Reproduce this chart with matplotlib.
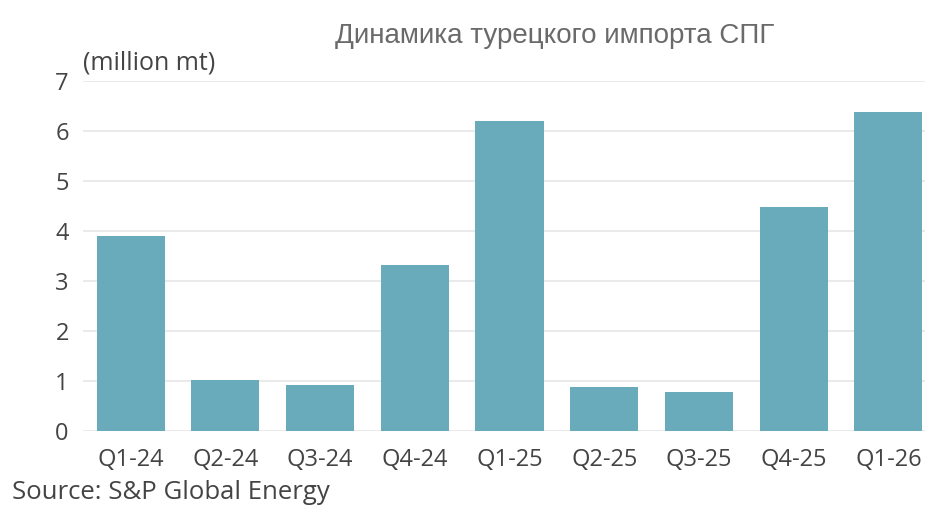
import matplotlib
matplotlib.use("Agg")
from matplotlib import pyplot as plt
import numpy as np

quarters = ["Q1-24", "Q2-24", "Q3-24", "Q4-24", "Q1-25", "Q2-25", "Q3-25", "Q4-25", "Q1-26"]
imports = [3.89, 1.01, 0.91, 3.32, 6.2, 0.88, 0.77, 4.47, 6.37]
yticks = [0, 1, 2, 3, 4, 5, 6, 7]

bar_color = "#6aabbb"
text_color = "#444444"

plt.rcParams["font.family"] = ["Open Sans", "DejaVu Sans"]

fig = plt.figure(figsize=(9.5, 5.16), dpi=100)
ax = fig.add_axes([0.087, 0.165, 0.887, 0.678])

x = np.arange(len(quarters))
ax.bar(x, imports, width=0.72, color=bar_color, zorder=2)

ax.set_xlim(-0.507, 8.39)
ax.set_ylim(0, 7)
ax.set_yticks(yticks)
ax.set_xticks(x)
ax.set_xticklabels(quarters)
ax.grid(axis="y", color="#e6e6e6", linewidth=1.2, zorder=0)
ax.tick_params(axis="both", length=0, labelsize=17, colors=text_color)
ax.tick_params(axis="y", pad=10)
ax.tick_params(axis="x", pad=12)
for s in ax.spines.values():
    s.set_visible(False)

fig.text(0.584, 0.93, "Динамика турецкого импорта СПГ", ha="center", va="center",
         fontsize=20, color="#6a6a6a", family=["Liberation Sans", "DejaVu Sans"])
fig.text(0.087, 0.878, "(million mt)", ha="left", va="center", fontsize=18, color=text_color)
fig.text(0.013, 0.045, "Source: S&P Global Energy", ha="left", va="center", fontsize=18.5, color=text_color)

fig.savefig("out.png", dpi=100)
